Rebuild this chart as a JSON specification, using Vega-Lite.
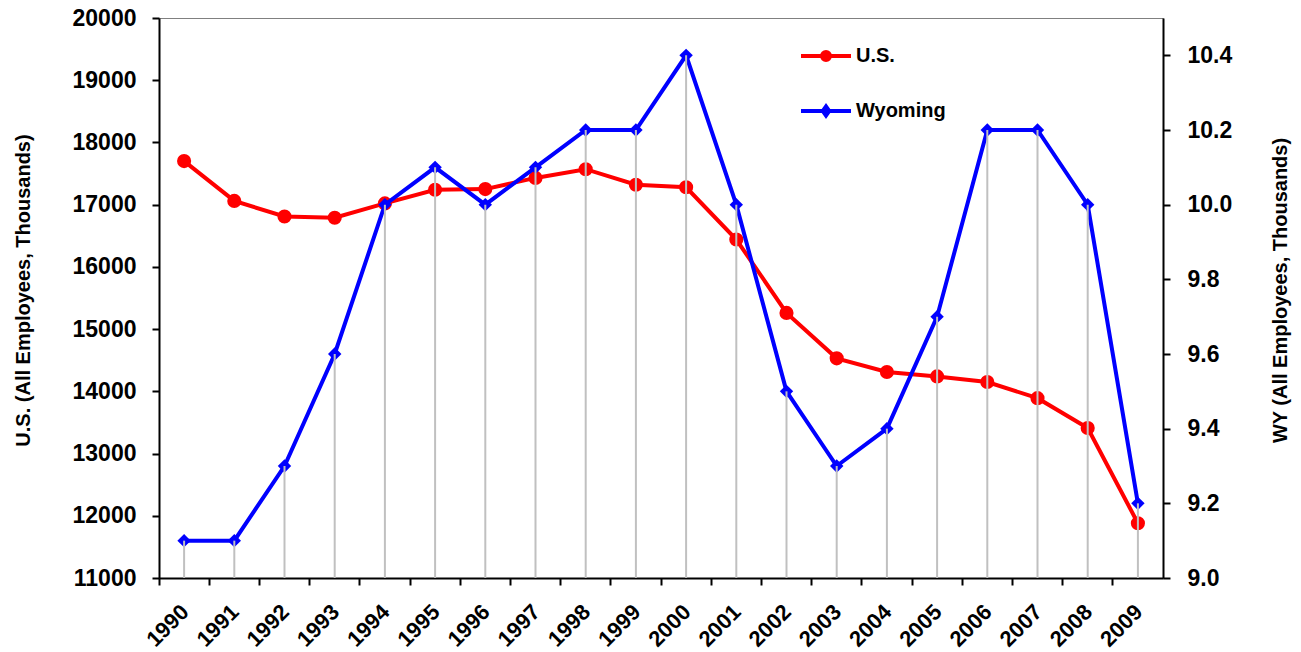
{
  "$schema": "https://vega.github.io/schema/vega-lite/v6.json",
  "autosize": "none",
  "width": 1004,
  "height": 560,
  "padding": {"left": 159, "top": 18, "right": 138, "bottom": 74},
  "background": "white",
  "config": {
    "font": "Liberation Sans",
    "view": {"stroke": "#808080", "strokeWidth": 1},
    "axis": {
      "labelFont": "Liberation Sans",
      "labelFontWeight": "bold",
      "labelColor": "black",
      "titleFont": "Liberation Sans",
      "titleFontWeight": "bold",
      "titleColor": "black",
      "domainColor": "black",
      "domainWidth": 2,
      "tickColor": "black",
      "tickWidth": 2,
      "tickSize": 7,
      "grid": false
    }
  },
  "data": {
    "values": [
      {"year": "1990", "us": 17700, "wy": 9.1},
      {"year": "1991", "us": 17060, "wy": 9.1},
      {"year": "1992", "us": 16810, "wy": 9.3},
      {"year": "1993", "us": 16790, "wy": 9.6},
      {"year": "1994", "us": 17020, "wy": 10.0},
      {"year": "1995", "us": 17240, "wy": 10.1},
      {"year": "1996", "us": 17250, "wy": 10.0},
      {"year": "1997", "us": 17430, "wy": 10.1},
      {"year": "1998", "us": 17570, "wy": 10.2},
      {"year": "1999", "us": 17320, "wy": 10.2},
      {"year": "2000", "us": 17280, "wy": 10.4},
      {"year": "2001", "us": 16440, "wy": 10.0},
      {"year": "2002", "us": 15260, "wy": 9.5},
      {"year": "2003", "us": 14530, "wy": 9.3},
      {"year": "2004", "us": 14310, "wy": 9.4},
      {"year": "2005", "us": 14240, "wy": 9.7},
      {"year": "2006", "us": 14150, "wy": 10.2},
      {"year": "2007", "us": 13890, "wy": 10.2},
      {"year": "2008", "us": 13410, "wy": 10.0},
      {"year": "2009", "us": 11880, "wy": 9.2}
    ]
  },
  "encoding": {
    "x": {
      "field": "year",
      "type": "ordinal",
      "scale": {"type": "band", "paddingInner": 0, "paddingOuter": 0},
      "axis": {
        "title": null,
        "bandPosition": 0,
        "labelOffset": 1,
        "labelAngle": -45,
        "labelAlign": "right",
        "labelBaseline": "middle",
        "labelFontSize": 22,
        "labelPadding": 23,
        "encode": {"ticks": {"update": {"y": {"value": -7}}}}
      }
    }
  },
  "layer": [
    {
      "layer": [
        {
          "mark": {"type": "line", "strokeWidth": 4},
          "encoding": {
            "y": {
              "field": "us",
              "type": "quantitative",
              "scale": {"domain": [11000, 20000], "nice": false, "zero": false},
              "axis": {
                "orient": "left",
                "title": "U.S. (All Employees, Thousands)",
                "values": [11000, 12000, 13000, 14000, 15000, 16000, 17000, 18000, 19000, 20000],
                "format": "d",
                "labelFontSize": 23,
                "labelPadding": 16,
                "titleFontSize": 20,
                "titleAngle": -90,
                "titleX": -136,
                "titleY": 272,
                "titleAlign": "center",
                "titleBaseline": "middle",
                "encode": {"ticks": {"update": {"x": {"value": 7}}}}
              }
            },
            "color": {
              "datum": "U.S.",
              "type": "nominal",
              "scale": {"domain": ["U.S.", "Wyoming"], "range": ["#ff0000", "#0000ff"]},
              "legend": {
                "title": null,
                "orient": "none",
                "legendX": 655,
                "legendY": 26,
                "padding": 0,
                "symbolSize": 400,
                "symbolStrokeWidth": 4,
                "labelFont": "Liberation Sans",
                "labelFontWeight": "bold",
                "labelFontSize": 20,
                "labelColor": "black",
                "labelOffset": 18,
                "rowPadding": 30,
                "encode": {
                  "symbols": {
                    "update": {
                      "shape": {"signal": "datum.value === 'U.S.' ? 'M-2.5,0H2.5M0.4,0A0.4,0.4 0 1,1 -0.4,0A0.4,0.4 0 1,1 0.4,0Z' : 'M-2.5,0H2.5M0,-0.45L0.32,0L0,0.45L-0.32,0Z'"},
                      "fill": {"signal": "datum.value === 'U.S.' ? '#ff0000' : '#0000ff'"},
                      "strokeWidth": {"value": 4}
                    }
                  }
                }
              }
            }
          }
        },
        {
          "mark": {"type": "point", "shape": "circle", "filled": true, "size": 200, "opacity": 1, "color": "#ff0000"},
          "encoding": {
            "y": {"field": "us", "type": "quantitative"}
          }
        }
      ]
    },
    {
      "layer": [
        {
          "mark": {"type": "line", "strokeWidth": 4},
          "encoding": {
            "y": {
              "field": "wy",
              "type": "quantitative",
              "scale": {"domain": [9.0, 10.5], "nice": false, "zero": false},
              "axis": {
                "orient": "right",
                "title": "WY (All Employees, Thousands)",
                "values": [9.0, 9.2, 9.4, 9.6, 9.8, 10.0, 10.2, 10.4],
                "format": ".1f",
                "labelFontSize": 23,
                "labelPadding": 17,
                "titleFontSize": 20,
                "titleAngle": -90,
                "titleX": 117,
                "titleY": 272,
                "titleAlign": "center",
                "titleBaseline": "middle",
                "encode": {"ticks": {"update": {"x": {"value": -7}}}}
              }
            },
            "color": {"datum": "Wyoming", "type": "nominal"}
          }
        },
        {
          "mark": {"type": "point", "shape": "diamond", "filled": true, "size": 180, "opacity": 1, "color": "#0000ff"},
          "encoding": {
            "y": {"field": "wy", "type": "quantitative"}
          }
        },
        {
          "mark": {"type": "rule", "color": "#c0c0c0", "strokeWidth": 2},
          "encoding": {
            "y": {"field": "wy", "type": "quantitative"},
            "y2": {"datum": 9.0}
          }
        }
      ]
    }
  ],
  "resolve": {"scale": {"y": "independent"}}
}
